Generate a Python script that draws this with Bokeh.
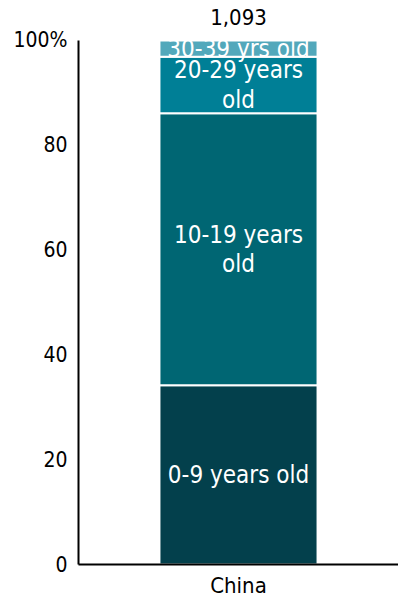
from bokeh.plotting import figure
from bokeh.models import ColumnDataSource, Range1d, FixedTicker
from bokeh.core.properties import value
from bokeh.embed import file_html
from bokeh.resources import INLINE

# ---- data ----
categories = ["China"]
age_groups = ["0-9 years old", "10-19 years old", "20-29 years old", "30-39 yrs old"]
segment_labels = ["0-9 years old", "10-19 years\nold", "20-29 years\nold", "30-39 yrs old"]
shares = [34.2, 51.9, 10.8, 3.1]
total_label = "1,093"
y_ticks = [0, 20, 40, 60, 80, 100]
colors = ["#03404C", "#006673", "#007F96", "#52A8BB"]

FONT = "DejaVu Sans Condensed"

bottoms, tops = [], []
acc = 0.0
for s in shares:
    bottoms.append(acc)
    acc += s
    tops.append(acc)
mids = [(b + t) / 2 for b, t in zip(bottoms, tops)]
xpos = list(range(len(categories)))

src = ColumnDataSource(dict(
    x=[xpos[0]] * len(shares),
    bottom=bottoms, top=tops, mid=mids,
    color=colors, label=segment_labels, group=age_groups,
))

p = figure(
    width=398, height=601,
    x_range=Range1d(-0.5, 0.5),
    y_range=Range1d(0, 107.63),
    output_backend="svg", toolbar_location=None,
    min_border_left=78, min_border_right=0, min_border_top=0, min_border_bottom=37,
)
p.outline_line_color = None
p.grid.visible = False
p.background_fill_color = "white"

p.vbar(x="x", bottom="bottom", top="top", width=0.494, fill_color="color",
       line_color="white", line_width=2, source=src)

p.text(x="x", y="mid", text="label", source=src,
       text_align="center", text_baseline="middle",
       text_color="white", text_font=value(FONT), text_font_size="24px",
       text_line_height=1.05)

tsrc = ColumnDataSource(dict(x=xpos, y=[tops[-1]], t=[total_label]))
p.text(x="x", y="y", text="t", source=tsrc, text_align="center",
       text_baseline="middle", y_offset=-23,
       text_color="black", text_font=value(FONT), text_font_size="22px")

ya = p.yaxis[0]
ya.ticker = FixedTicker(ticks=y_ticks)
ya.bounds = (0, 100)
ya.major_label_overrides = {100: "100%"}
ya.major_tick_line_color = None
ya.minor_tick_line_color = None
ya.major_tick_out = 0
ya.major_tick_in = 0
ya.axis_line_width = 2
ya.axis_line_color = "black"
ya.major_label_text_font = FONT
ya.major_label_text_font_size = "21px"
ya.major_label_text_color = "black"
ya.major_label_standoff = 11

xa = p.xaxis[0]
xa.ticker = FixedTicker(ticks=xpos)
xa.major_label_overrides = {i: c for i, c in zip(xpos, categories)}
xa.major_tick_line_color = None
xa.minor_tick_line_color = None
xa.major_tick_out = 0
xa.major_tick_in = 0
xa.axis_line_width = 2
xa.axis_line_color = "black"
xa.major_label_text_font = FONT
xa.major_label_text_font_size = "22px"
xa.major_label_text_color = "black"
xa.major_label_standoff = 8

open("out.html", "w").write(file_html(p, INLINE))
